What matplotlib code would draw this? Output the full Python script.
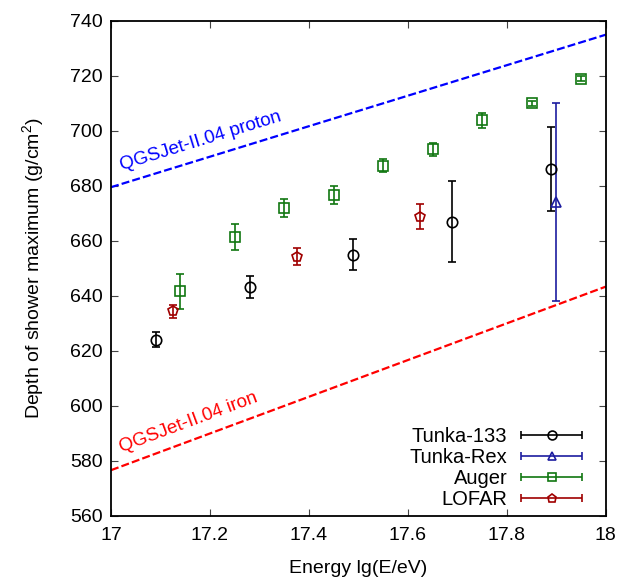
import numpy as np
import matplotlib
matplotlib.use('Agg')
import matplotlib.pyplot as plt
from matplotlib.legend_handler import HandlerErrorbar
from matplotlib.container import ErrorbarContainer

plt.rcParams['font.family'] = ['Liberation Sans', 'DejaVu Sans']
plt.rcParams['mathtext.fontset'] = 'custom'
plt.rcParams['mathtext.rm'] = 'Liberation Sans'
plt.rcParams['mathtext.it'] = 'Liberation Sans:italic'

# Tunka-133
t133_lgE = [17.09, 17.28, 17.49, 17.69, 17.89]
t133_xmax = [624.0, 643.1, 655.0, 667.0, 686.0]
t133_err = [2.7, 4.0, 5.5, 14.7, 15.3]

# Tunka-Rex
trex_lgE = [17.90]
trex_xmax = [674.0]
trex_err = [36.0]

# Auger
auger_lgE = [17.14, 17.25, 17.35, 17.45, 17.55, 17.65, 17.75, 17.85, 17.95]
auger_xmax = [641.6, 661.5, 672.0, 676.8, 687.3, 693.3, 703.8, 710.0, 719.0]
auger_err = [6.3, 4.7, 3.3, 3.3, 2.3, 2.3, 2.6, 1.0, 1.0]

# LOFAR
lofar_lgE = [17.125, 17.375, 17.625]
lofar_xmax = [634.4, 654.2, 668.8]
lofar_err = [2.4, 3.0, 4.5]

# QGSJet-II.04 predictions
model_lgE = [17.0, 18.0]
proton_xmax = [679.5, 735.0]
iron_xmax = [576.5, 643.3]

c_t133 = 'black'
c_trex = '#1c1ca0'
c_auger = '#117711'
c_lofar = '#a00000'

fig = plt.figure(figsize=(6.38, 5.81), dpi=100)
ax = fig.add_axes([0.174, 0.1127, 0.7754, 0.8512])

# model lines
ax.plot(model_lgE, proton_xmax, color='#0000ff', lw=1.6, ls=(0, (3.6, 1.4)))
ax.plot(model_lgE, iron_xmax, color='#ff0000', lw=1.6, ls=(0, (3.6, 1.4)))

def label_line(xs, ys, x0, off, txt, col):
    slope = (ys[1] - ys[0]) / (xs[1] - xs[0])
    ang = np.degrees(np.arctan2(slope, 1.0))
    y0 = np.interp(x0, xs, ys) + off
    ax.text(x0, y0, txt, color=col, fontsize=13.5, rotation=ang,
            rotation_mode='anchor', ha='left', va='baseline',
            transform_rotates_text=True)

label_line(model_lgE, proton_xmax, 17.022, 5.0, 'QGSJet-II.04 proton', '#0000ff')
label_line(model_lgE, iron_xmax, 17.022, 5.0, 'QGSJet-II.04 iron', '#ff0000')

# data
kw = dict(linestyle='none', mfc='none', capsize=3, elinewidth=1.2,
          capthick=1.2, mew=1.2, ms=7.5)
ax.errorbar(t133_lgE, t133_xmax, yerr=t133_err, marker='o', color=c_t133, **kw)
ax.errorbar(trex_lgE, trex_xmax, yerr=trex_err, marker='^', color=c_trex, **kw)
ax.errorbar(auger_lgE, auger_xmax, yerr=auger_err, marker='s', color=c_auger, **kw)
ax.errorbar(lofar_lgE, lofar_xmax, yerr=lofar_err, marker='p', color=c_lofar, **kw)

# legend proxies (horizontal bar style, text right-justified)
proxies = []
for m, c in [('o', c_t133), ('^', c_trex), ('s', c_auger), ('p', c_lofar)]:
    h = ax.errorbar([np.nan], [np.nan], xerr=[0.0], marker=m, color=c, **kw)
    proxies.append(h)
leg = ax.legend(proxies, ['Tunka-133', 'Tunka-Rex', 'Auger', 'LOFAR'],
                loc='lower right', bbox_to_anchor=(0.98, -0.016),
                frameon=False, fontsize=14.5, markerscale=0.85,
                markerfirst=False, handlelength=3.0, handletextpad=0.7,
                labelspacing=0.1, borderaxespad=0.3,
                handler_map={ErrorbarContainer: HandlerErrorbar(xerr_size=1.5)})

ax.set_xlim(17, 18)
ax.set_ylim(560, 740)
ax.set_xticks(np.arange(17, 18.01, 0.2))
ax.set_xticklabels(['17', '17.2', '17.4', '17.6', '17.8', '18'])
ax.set_yticks(np.arange(560, 741, 20))
ax.tick_params(direction='in', top=True, right=True, length=5, width=0.8,
               labelsize=14, color='#444444')
ax.tick_params(axis='x', pad=8)
ax.tick_params(axis='y', pad=6)
for s in ax.spines.values():
    s.set_linewidth(1.3)

ax.set_xlabel('Energy lg(E/eV)', fontsize=14, labelpad=12)
ax.set_ylabel('Depth of shower maximum (g/cm$^2$)', fontsize=14, labelpad=17)

fig.savefig('out.png', dpi=100)
